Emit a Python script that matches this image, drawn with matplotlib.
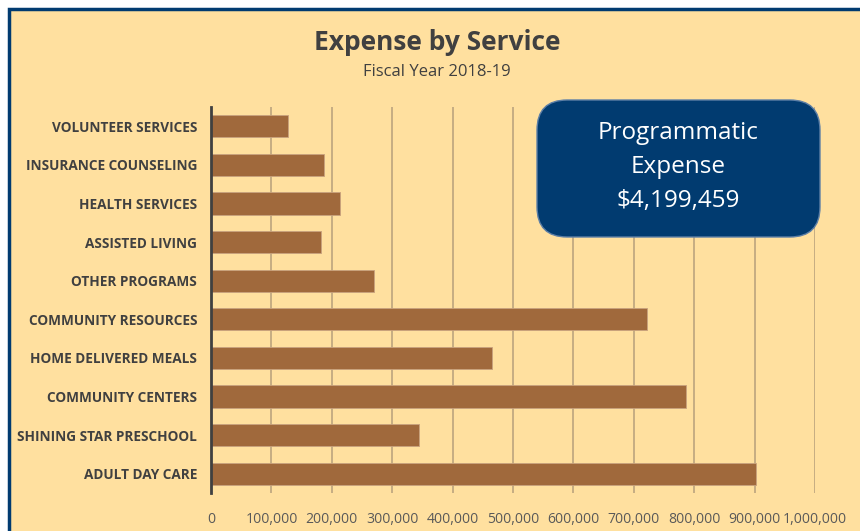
import matplotlib
matplotlib.use("Agg")
import matplotlib.pyplot as plt
from matplotlib.patches import FancyBboxPatch, Rectangle
from matplotlib.ticker import FuncFormatter

categories = ["VOLUNTEER SERVICES", "INSURANCE COUNSELING", "HEALTH SERVICES",
              "ASSISTED LIVING", "OTHER PROGRAMS", "COMMUNITY RESOURCES",
              "HOME DELIVERED MEALS", "COMMUNITY CENTERS",
              "SHINING STAR PRESCHOOL", "ADULT DAY CARE"]
values = [127500, 187000, 213600, 182000, 270000, 722000, 466000, 786000, 344000, 902000]
x_ticks = [0, 100000, 200000, 300000, 400000, 500000, 600000, 700000, 800000, 900000, 1000000]
title = "Expense by Service"
subtitle = "Fiscal Year 2018-19"
box_text = "Programmatic\nExpense\n$4,199,459"

BG = "#FFE09F"
BAR = "#A0693C"
NAVY = "#013B70"
W, H = 860, 531

fig = plt.figure(figsize=(W / 100, H / 100), dpi=100)
fig.patch.set_facecolor("white")
# panel background with navy border on left/top
fig.patches.append(Rectangle((9 / W, -0.1), 1.2, (1 - 9 / H) + 0.1, transform=fig.transFigure,
                             facecolor=BG, edgecolor=NAVY, linewidth=2.5, zorder=-10))

ax = fig.add_axes([211 / W, 1 - 493 / H, (815 - 211) / W, (493 - 107) / H])
ax.set_facecolor("none")
y = list(range(len(categories)))
ax.barh(y, values, height=0.57, color=BAR, edgecolor="#C9A27E", linewidth=0.6, zorder=3)
ax.set_ylim(len(categories) - 0.5, -0.5)
ax.set_xlim(0, 1000000)
ax.set_xticks(x_ticks)
ax.xaxis.set_major_formatter(FuncFormatter(lambda v, p: f"{int(v):,}"))
ax.set_yticks(y)
ax.set_yticklabels(categories, fontfamily="Open Sans", fontweight="bold", fontsize=9.8, color="#404040")
for lab in ax.get_xticklabels():
    lab.set_fontfamily("Open Sans")
    lab.set_fontsize(10.1)
    lab.set_color("#595959")
ax.grid(axis="x", color="#BCA47E", linewidth=1.2, zorder=1)
ax.tick_params(axis="x", length=0, pad=14)
ax.tick_params(axis="y", length=0, pad=10)
for s in ["top", "right", "bottom"]:
    ax.spines[s].set_visible(False)
ax.spines["left"].set_color("#404040")
ax.spines["left"].set_linewidth(2)
ax.spines["left"].set_zorder(4)

fig.text(437 / W, 1 - 42 / H, title, ha="center", va="center", fontfamily="Open Sans",
         fontweight="bold", fontsize=19, color="#404040")
fig.text(437 / W, 1 - 72 / H, subtitle, ha="center", va="center", fontfamily="Open Sans",
         fontsize=12, color="#404040")

bx0, by0, bx1, by1 = 537, 100, 820, 237
fig.patches.append(FancyBboxPatch((bx0 / W, 1 - by1 / H), (bx1 - bx0) / W, (by1 - by0) / H,
                                  boxstyle="round,pad=0,rounding_size=0.035",
                                  transform=fig.transFigure, facecolor=NAVY,
                                  edgecolor="#5D7FA6", linewidth=1, zorder=5,
                                  mutation_aspect=W / H))
fig.text((bx0 + bx1) / 2 / W, 1 - 167 / H, box_text, ha="center", va="center",
         fontfamily="Open Sans", fontsize=17.5, color="white", linespacing=1.58, zorder=6)

fig.savefig("out.png", dpi=100, facecolor=fig.get_facecolor())
